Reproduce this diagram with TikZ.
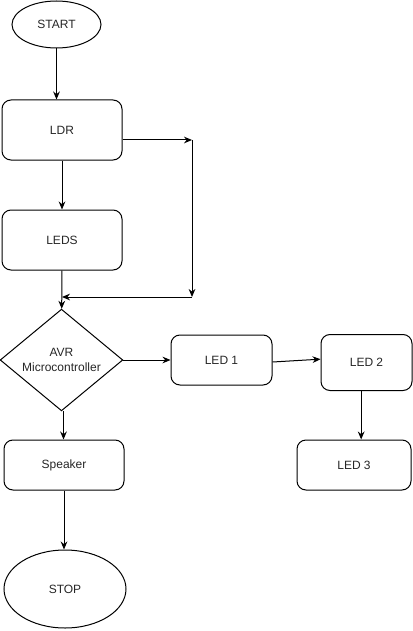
\documentclass[tikz,border=0pt]{standalone}
\usepackage{fontspec}
\setmainfont{Liberation Sans}
\usetikzlibrary{shapes.geometric,arrows.meta}
\begin{document}
\begin{tikzpicture}[x=0.75pt,y=-0.75pt,
  lbl/.style={font=\fontsize{9}{11}\selectfont, align=center, text=black!85},
  box/.style={lbl, draw, rounded corners=6.75pt, line width=0.75pt, inner sep=0pt},
  oval/.style={lbl, draw, ellipse, line width=0.75pt, inner sep=0pt},
  dec/.style={lbl, draw, diamond, line width=0.75pt, inner sep=0pt},
  arr/.style={-{Stealth[length=6pt,width=5pt]}, line width=0.75pt}]
\useasboundingbox (0,0) rectangle (413,631);

\node[oval, minimum width=66.75pt, minimum height=35.25pt] (start) at (56.5,24.5) {START};
\node[box, minimum width=90pt, minimum height=45pt] (ldr) at (62,130) {LDR};
\node[box, minimum width=90pt, minimum height=45pt] (leds) at (62,240) {LEDS};
\node[dec, minimum width=92pt, minimum height=75pt] (avr) at (61.5,360) {AVR\\Microcontroller};
\node[box, minimum width=75.75pt, minimum height=37.5pt] (led1) at (221.5,360) {LED 1};
\node[box, minimum width=68.25pt, minimum height=42pt] (led2) at (366.5,362.5) {LED 2};
\node[box, minimum width=85.5pt, minimum height=37.5pt] (led3) at (354,465) {LED 3};
\node[box, minimum width=90pt, minimum height=37.5pt] (speaker) at (64,465) {Speaker};
\node[oval, minimum width=91.5pt, minimum height=58.5pt] (stop) at (65,589) {STOP};

\coordinate (j1) at (192,140);
\coordinate (j2) at (192,297);

\draw[arr] (start.south) -- (start.south |- ldr.north);
\draw[arr] (ldr) -- (leds);
\draw[arr] (ldr.east |- j1) -- (j1);
\draw[arr] (j1) -- (j2);
\draw[arr] (j2) -- (j2 -| leds.south);
\draw[arr] (leds) -- (avr);
\draw[arr] (avr) -- (led1);
\draw[arr] ([yshift=-1.5pt]led1.east) -- ([yshift=2.5pt]led2.west);
\draw[arr] ([xshift=-4pt]led2.south) -- ([xshift=-4pt]led2.south |- led3.north);
\draw[arr] ([xshift=1.5pt]avr.south) -- ([xshift=1.5pt]avr.south |- speaker.north);
\draw[arr] (speaker.south) -- (speaker.south |- stop.north);
\end{tikzpicture}
\end{document}
